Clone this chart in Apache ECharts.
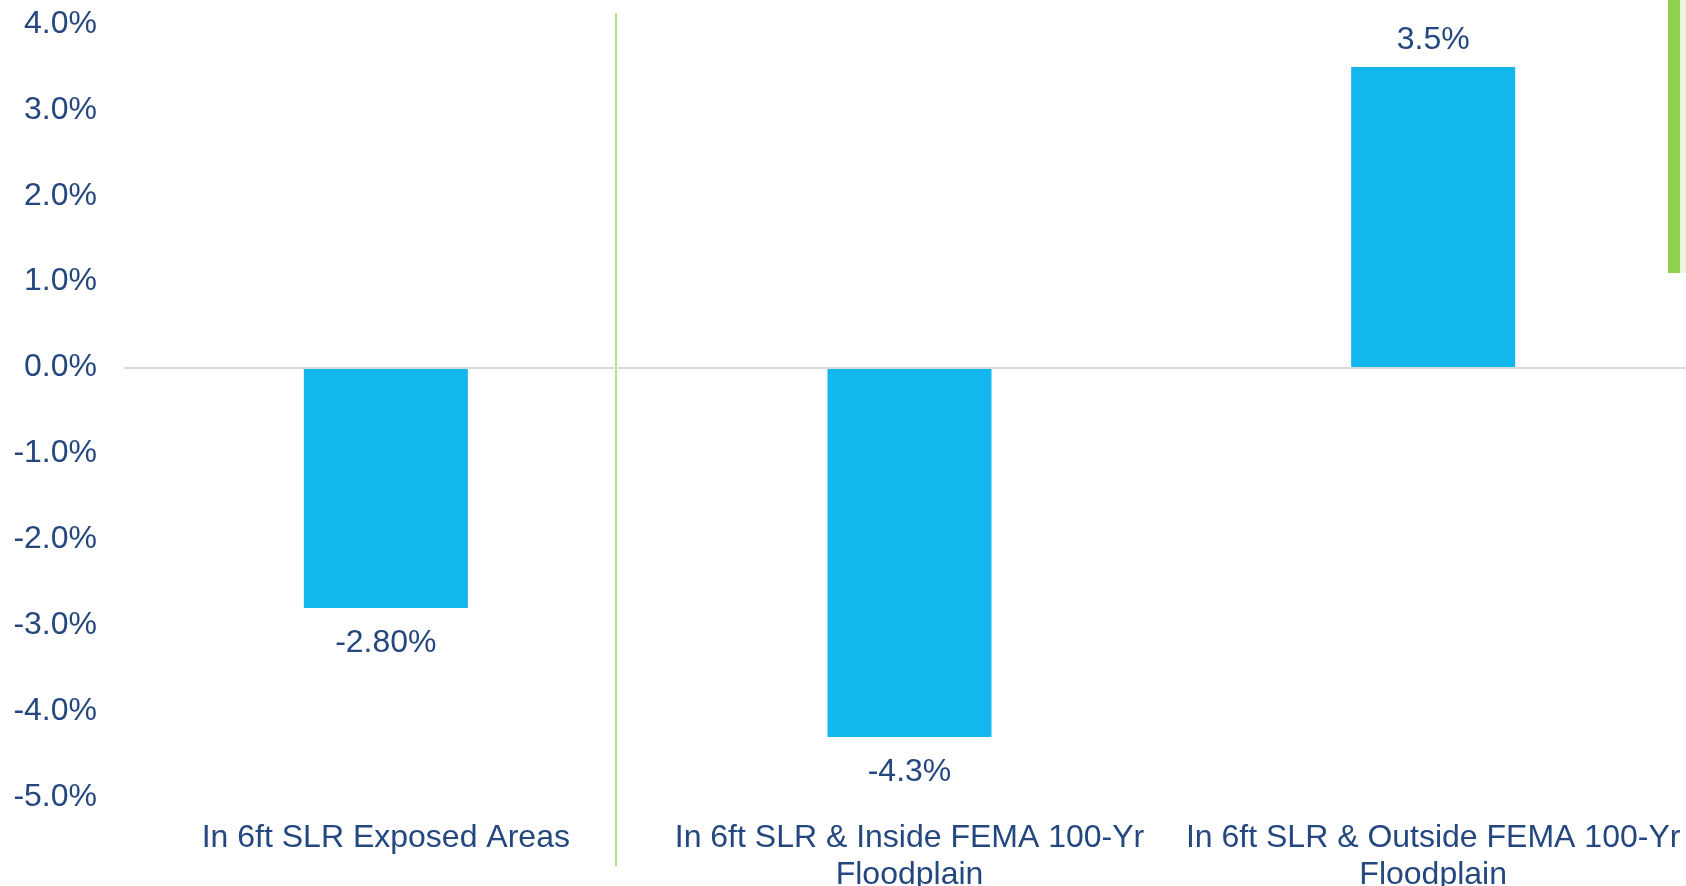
<!DOCTYPE html>
<html>
<head>
<meta charset="utf-8">
<script src="https://cdn.jsdelivr.net/npm/echarts@6/dist/echarts.min.js"></script>
<style>
  html, body { margin: 0; padding: 0; background: #fff; }
  #main { width: 1686px; height: 886px; }
</style>
</head>
<body>
<div id="main"></div>
<script>
var categories = [
  'In 6ft SLR Exposed Areas',
  'In 6ft SLR & Inside FEMA 100-Yr\nFloodplain',
  'In 6ft SLR & Outside FEMA 100-Yr\nFloodplain'
];
var values = [-2.8, -4.3, 3.5];
var valueLabels = ['-2.80%', '-4.3%', '3.5%'];

var textColor = '#24477f';
var barColor = '#12b7ee';
var font = 'Liberation Sans, Arial, sans-serif';

var chartDom = document.getElementById('main');
var myChart = echarts.init(chartDom);
var option;

option = {
  animation: false,
  grid: {
    left: 124,
    width: 1571,
    top: 24,
    bottom: 89,
    containLabel: false,
    outerBoundsMode: 'none'
  },
  xAxis: {
    type: 'category',
    data: categories,
    axisLine: { show: false },
    axisTick: { show: false },
    axisLabel: {
      color: textColor,
      fontFamily: font,
      fontSize: 32,
      lineHeight: 37,
      margin: 23,
      interval: 0
    }
  },
  yAxis: {
    type: 'value',
    min: -5,
    max: 4,
    interval: 1,
    splitLine: { show: false },
    axisLine: { show: false },
    axisTick: { show: false },
    axisLabel: {
      color: textColor,
      fontFamily: font,
      fontSize: 32,
      margin: 27,
      formatter: function (v) { return v.toFixed(1) + '%'; }
    }
  },
  series: [
    {
      type: 'bar',
      barWidth: 164,
      itemStyle: { color: barColor },
      data: values.map(function (v, i) {
        return {
          value: v,
          label: {
            show: true,
            position: v < 0 ? 'bottom' : 'top',
            distance: v < 0 ? 19 : 11,
            formatter: valueLabels[i],
            color: textColor,
            fontFamily: font,
            fontSize: 32
          }
        };
      }),
      markLine: {
        silent: true,
        symbol: 'none',
        label: { show: false },
        lineStyle: { color: '#d9d9d9', width: 2, type: 'solid' },
        data: [{ yAxis: 0 }]
      },
      z: 3
    }
  ],
  graphic: [
    {
      type: 'line',
      shape: { x1: 616, y1: 13, x2: 616, y2: 866 },
      style: { stroke: '#b3df8c', lineWidth: 2 },
      z: 1
    },
    {
      type: 'rect',
      shape: { x: 1668, y: 0, width: 12, height: 273 },
      style: { fill: '#92d050' }
    },
    {
      type: 'rect',
      shape: { x: 1680, y: 0, width: 6, height: 273 },
      style: { fill: '#e9f6df' }
    }
  ]
};

option && myChart.setOption(option);

window.onresize = function () {
  myChart.resize();
};
</script>
</body>
</html>
